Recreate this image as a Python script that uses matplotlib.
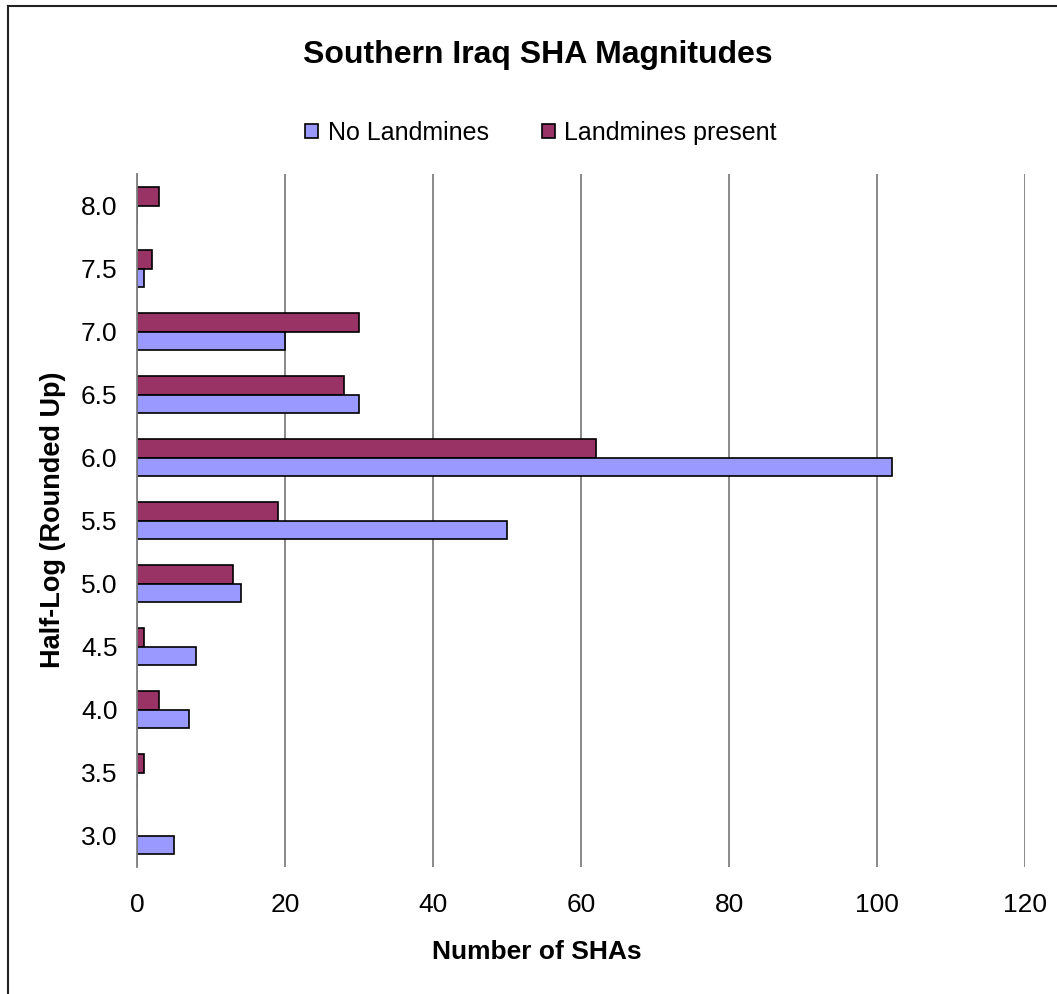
import matplotlib
matplotlib.use('Agg')
import matplotlib.pyplot as plt
import numpy as np
from matplotlib.lines import Line2D
from matplotlib.patches import Patch


categories = ['3.0', '3.5', '4.0', '4.5', '5.0', '5.5', '6.0', '6.5', '7.0', '7.5', '8.0']
no_landmines = [5, 0, 7, 8, 14, 50, 102, 30, 20, 1, 0]
landmines_present = [0, 1, 3, 1, 13, 19, 62, 28, 30, 2, 3]
x_ticks = [0, 20, 40, 60, 80, 100, 120]

BLUE = '#9999FF'
PLUM = '#993366'
W, H = 1057, 994

plt.rcParams['font.family'] = ['Liberation Sans', 'DejaVu Sans']

fig = plt.figure(figsize=(W / 100, H / 100), dpi=100)
ax = fig.add_axes([137 / W, 1 - 867 / H, (1025 - 137) / W, (867 - 174) / H])

y = np.arange(len(categories))
bh = 0.3
ax.barh(y + bh / 2, landmines_present, height=bh, color=PLUM,
        edgecolor='black', linewidth=1.2, zorder=3)
ax.barh(y - bh / 2, no_landmines, height=bh, color=BLUE,
        edgecolor='black', linewidth=1.2, zorder=3)

ax.set_xlim(0, 120)
ax.set_ylim(-0.5, len(categories) - 0.5)
ax.set_xticks(x_ticks)
ax.set_yticks(y)
ax.set_yticklabels(categories)
ax.tick_params(axis='both', length=0, labelsize=19)
ax.tick_params(axis='x', pad=19)
ax.tick_params(axis='y', pad=14)

ax.xaxis.grid(True, color='#808080', linewidth=1.3, zorder=0)
ax.set_axisbelow(True)
for side in ['top', 'right', 'bottom']:
    ax.spines[side].set_visible(False)
ax.spines['left'].set_color('#808080')
ax.spines['left'].set_linewidth(1.3)
ax.spines['left'].set_zorder(4)

fig.text(538 / W, 1 - 55 / H, 'Southern Iraq SHA Magnitudes', ha='center',
         va='center', fontsize=23, fontweight='bold')
fig.text(537 / W, 1 - 952 / H, 'Number of SHAs', ha='center', va='center',
         fontsize=19, fontweight='bold')
fig.text(53 / W, 1 - 520 / H, 'Half-Log (Rounded Up)', ha='center',
         va='center', rotation=90, fontsize=19.5, fontweight='bold')

handles = [Patch(facecolor=BLUE, edgecolor='black', linewidth=1.2),
           Patch(facecolor=PLUM, edgecolor='black', linewidth=1.2)]
fig.legend(handles, ['No Landmines', 'Landmines present'], ncol=2,
           loc='center', bbox_to_anchor=(541 / W, 1 - 133 / H),
           frameon=False, fontsize=18, handlelength=0.52,
           handleheight=0.52, handletextpad=0.4, columnspacing=2.1)

# outer chart border (only left/top visible in the frame)
fig.add_artist(Line2D([8 / W, 8 / W], [0, 1 - 6 / H], color='#222222',
                      linewidth=1.5, transform=fig.transFigure))
fig.add_artist(Line2D([8 / W, 1], [1 - 6 / H, 1 - 6 / H], color='#222222',
                      linewidth=1.5, transform=fig.transFigure))

fig.savefig('out.png', dpi=100)
